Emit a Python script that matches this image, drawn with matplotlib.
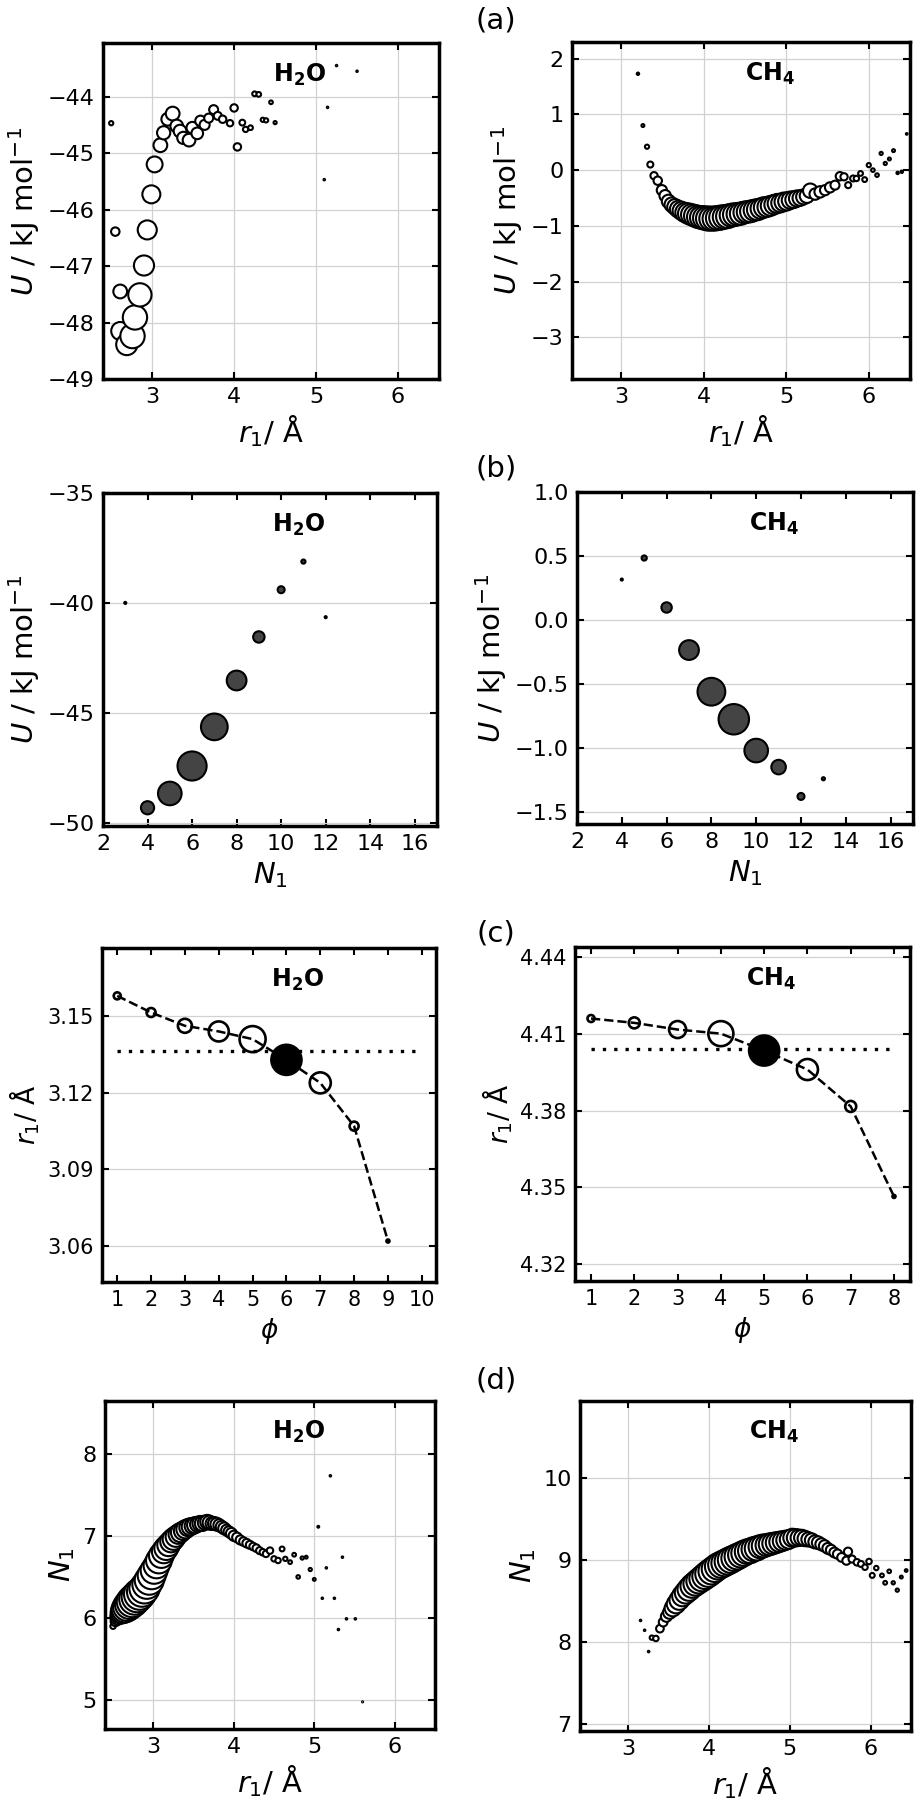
import numpy as np
import matplotlib
matplotlib.use("Agg")
import matplotlib.pyplot as plt

# ---------------- (a) U vs r1 ----------------
r_a_h2o = [2.50, 2.55, 2.61, 2.61, 2.69, 2.76, 2.79, 2.85, 2.90, 2.94, 2.99, 3.03, 3.10, 3.14,
           3.19, 3.25, 3.30, 3.34, 3.38, 3.45, 3.49, 3.55, 3.59, 3.64, 3.69, 3.75, 3.80, 3.86,
           3.95, 4.00, 4.04, 4.10, 4.14, 4.20, 4.25, 4.30, 4.35, 4.39, 4.45, 4.50, 5.10, 5.14,
           5.25, 5.50]
u_a_h2o = [-44.47, -46.39, -47.45, -48.15, -48.39, -48.24, -47.91, -47.51, -46.99, -46.36,
           -45.73, -45.20, -44.86, -44.64, -44.40, -44.30, -44.52, -44.61, -44.73, -44.77,
           -44.55, -44.65, -44.43, -44.50, -44.38, -44.23, -44.34, -44.40, -44.47, -44.20,
           -44.89, -44.46, -44.58, -44.55, -43.95, -43.96, -44.41, -44.42, -44.10, -44.46,
           -45.47, -44.19, -43.45, -43.55]
p_a_h2o = [0.16, 0.64, 1.69, 2.89, 4.00, 5.29, 5.29, 4.84, 3.61, 3.24, 2.89, 2.25, 1.69, 1.56,
           1.44, 1.69, 1.44, 1.44, 1.32, 1.44, 1.21, 1.21, 1.00, 0.90, 0.72, 0.72, 0.56, 0.49,
           0.36, 0.49, 0.49, 0.30, 0.25, 0.20, 0.20, 0.20, 0.16, 0.16, 0.12, 0.09, 0.02, 0.02,
           0.02, 0.02]

r_a_ch4 = [3.20, 3.26, 3.31, 3.35, 3.395, 3.44, 3.49, 3.53, 3.57,
           3.61, 3.65, 3.69, 3.73, 3.77, 3.81, 3.85, 3.89, 3.93, 3.97, 4.01, 4.05, 4.09, 4.13,
           4.17, 4.21, 4.25, 4.29, 4.33, 4.37, 4.41, 4.45, 4.49, 4.53, 4.57, 4.61, 4.65, 4.69,
           4.73, 4.77, 4.81, 4.85, 4.89, 4.93, 4.97, 5.01, 5.05, 5.09, 5.13, 5.17, 5.21, 5.25,
           5.29, 5.35, 5.41, 5.47, 5.53, 5.59, 5.65, 5.70, 5.75, 5.81, 5.85, 5.90, 5.95, 6.00,
           6.05, 6.10, 6.15, 6.20, 6.25, 6.30, 6.35, 6.40, 6.46]
u_a_ch4 = [1.73, 0.80, 0.42, 0.10, -0.10, -0.19, -0.36, -0.46, -0.56,
           -0.62, -0.66, -0.70, -0.73, -0.76, -0.78, -0.80, -0.82, -0.84, -0.85, -0.86, -0.87,
           -0.87, -0.87, -0.86, -0.85, -0.84, -0.83, -0.81, -0.80, -0.79, -0.78, -0.76, -0.75,
           -0.74, -0.72, -0.71, -0.69, -0.67, -0.66, -0.64, -0.62, -0.60, -0.59, -0.57, -0.56,
           -0.54, -0.53, -0.51, -0.50, -0.48, -0.46,
           -0.37, -0.43, -0.39, -0.36, -0.31, -0.27, -0.11, -0.12, -0.27, -0.15, -0.15, -0.06,
           -0.17, 0.09, 0.00, -0.09, 0.30, 0.12, 0.20, 0.35, -0.05, -0.03, 0.65]
p_a_ch4 = [0.04, 0.06, 0.12, 0.25, 0.36, 0.49, 0.72, 0.90, 1.21,
           1.44, 1.69, 1.96, 2.25, 2.56, 2.89, 3.06, 3.24, 3.42, 3.61, 3.80, 4.00, 4.00, 4.00,
           4.00, 4.00, 3.80, 3.80, 3.61, 3.61, 3.42, 3.42, 3.24, 3.24, 3.24, 3.06, 3.06, 2.89,
           2.89, 2.72, 2.72, 2.56, 2.56, 2.40, 2.40, 2.25, 2.10, 1.96, 1.82, 1.69, 1.56, 1.44,
           1.44, 0.90, 0.90, 0.72, 0.72, 0.56, 0.49, 0.36, 0.25, 0.25, 0.20, 0.16, 0.16, 0.12,
           0.09, 0.09, 0.07, 0.07, 0.06, 0.06, 0.04, 0.04, 0.02]

# ---------------- (b) U vs N1 ----------------
n_b_h2o = [3, 4, 5, 6, 7, 8, 9, 10, 11, 12]
u_b_h2o = [-40.0, -49.32, -48.67, -47.42, -45.64, -43.53, -41.55, -39.40, -38.12, -40.65]
p_b_h2o = [0.04, 1.61, 5.15, 7.84, 6.60, 3.61, 1.21, 0.45, 0.16, 0.04]

n_b_ch4 = [4, 5, 6, 7, 8, 9, 10, 11, 12, 13]
u_b_ch4 = [0.317, 0.485, 0.099, -0.233, -0.558, -0.773, -1.017, -1.146, -1.375, -1.237]
p_b_ch4 = [0.04, 0.25, 1.00, 3.61, 7.13, 8.58, 5.15, 1.96, 0.45, 0.09]

# ---------------- (c) r1 vs phi ----------------
phi_h2o = [1, 2, 3, 4, 5, 6, 7, 8, 9]
r_c_h2o = [3.1578, 3.1513, 3.1461, 3.1439, 3.1409, 3.1328, 3.1238, 3.1069, 3.0620]
p_c_h2o = [0.49, 0.81, 1.96, 4.00, 6.76, 9.00, 4.41, 0.81, 0.09]
best_h2o = 6
rref_h2o = 3.1361

phi_ch4 = [1, 2, 3, 4, 5, 6, 7, 8]
r_c_ch4 = [4.4159, 4.4142, 4.4116, 4.4100, 4.4034, 4.3960, 4.3816, 4.3465]
p_c_ch4 = [0.49, 1.21, 2.89, 6.25, 9.00, 4.41, 1.21, 0.09]
best_ch4 = 5
rref_ch4 = 4.4040

# ---------------- (d) N1 vs r1 ----------------
r_d_h2o = [2.50, 2.53, 2.56, 2.59, 2.62, 2.65, 2.68, 2.71, 2.74, 2.77, 2.80, 2.83, 2.86, 2.89,
           2.92, 2.95, 2.98, 3.01, 3.04, 3.07, 3.10, 3.13, 3.16, 3.19, 3.22, 3.25, 3.28, 3.31,
           3.34, 3.37, 3.40, 3.43, 3.46, 3.49, 3.52, 3.55, 3.58, 3.61, 3.64, 3.67, 3.70, 3.73,
           3.76, 3.79, 3.82, 3.85, 3.88, 3.91, 3.94, 3.97, 4.00, 4.04, 4.08, 4.12, 4.16, 4.20,
           4.24, 4.28, 4.32, 4.36, 4.40,
           4.45, 4.50, 4.55, 4.60, 4.64, 4.70, 4.75, 4.80, 4.85, 4.90, 4.95, 5.00, 5.05, 5.10,
           5.15, 5.20, 5.25, 5.30, 5.35, 5.40, 5.51, 5.60]
n_d_h2o = [5.90, 5.96, 6.01, 6.05, 6.08, 6.11, 6.14, 6.17, 6.20, 6.23, 6.26, 6.29, 6.32, 6.36,
           6.41, 6.46, 6.52, 6.58, 6.64, 6.70, 6.76, 6.81, 6.85, 6.89, 6.93, 6.96, 6.99, 7.02,
           7.04, 7.06, 7.08, 7.10, 7.11, 7.12, 7.13, 7.14, 7.15, 7.15, 7.16, 7.17, 7.16, 7.15,
           7.15, 7.14, 7.13, 7.11, 7.09, 7.07, 7.05, 7.03, 7.00, 6.98, 6.95, 6.93, 6.91, 6.89,
           6.87, 6.85, 6.82, 6.80, 6.78,
           6.82, 6.72, 6.70, 6.84, 6.72, 6.68, 6.77, 6.50, 6.73, 6.74, 6.59, 6.47, 7.11, 6.24,
           6.61, 7.73, 6.24, 5.86, 6.74, 5.99, 5.99, 4.98]
p_d_h2o = [0.25, 0.81, 1.96, 3.24, 4.84, 6.25, 7.29, 7.84, 8.41, 8.41, 8.41, 8.41, 7.84, 7.84,
           7.29, 7.29, 6.76, 6.25, 5.76, 5.76, 5.29, 4.84, 4.84, 4.41, 4.00, 4.00, 3.61, 3.24,
           3.24, 2.89, 2.89, 2.56, 2.56, 2.25, 2.25, 1.96, 1.96, 1.96, 1.69, 1.69, 1.69, 1.44,
           1.44, 1.44, 1.21, 1.21, 1.21, 1.00, 1.00, 1.00, 0.90, 0.81, 0.72, 0.64, 0.64, 0.56,
           0.49, 0.49, 0.42, 0.36, 0.36,
           0.36, 0.25, 0.25, 0.20, 0.16, 0.12, 0.12, 0.11, 0.09, 0.07, 0.09, 0.07, 0.03, 0.02,
           0.02, 0.02, 0.02, 0.02, 0.02, 0.02, 0.02, 0.01]

r_d_ch4 = [3.15, 3.20, 3.25, 3.29, 3.34, 3.39, 3.43, 3.47, 3.51, 3.55,
           3.59, 3.63, 3.67, 3.71, 3.75, 3.79, 3.83, 3.87, 3.91, 3.95, 3.99, 4.03, 4.07, 4.11,
           4.15, 4.19, 4.23, 4.27, 4.31, 4.35, 4.39, 4.43, 4.47, 4.51, 4.55, 4.59, 4.63, 4.67,
           4.71, 4.75, 4.79, 4.83, 4.87, 4.91, 4.95, 4.99, 5.03, 5.07, 5.11, 5.15, 5.19, 5.23,
           5.27, 5.31, 5.35, 5.39, 5.43, 5.47, 5.51, 5.55, 5.59, 5.64, 5.70, 5.72, 5.77, 5.83,
           5.88, 5.93, 5.98, 6.02, 6.07, 6.14, 6.18, 6.23, 6.28, 6.33, 6.38, 6.44]
n_d_ch4 = [8.26, 8.14, 7.88, 8.05, 8.04, 8.16, 8.24, 8.31, 8.36, 8.41,
           8.46, 8.51, 8.56, 8.60, 8.64, 8.68, 8.71, 8.74, 8.77, 8.80, 8.83, 8.86, 8.89, 8.92,
           8.94, 8.96, 8.98, 9.00, 9.02, 9.04, 9.06, 9.08, 9.10, 9.11, 9.13, 9.14, 9.16, 9.17,
           9.18, 9.19, 9.20, 9.21, 9.22, 9.23, 9.24, 9.25, 9.27, 9.27, 9.27, 9.27, 9.26, 9.25,
           9.24, 9.22, 9.21, 9.19, 9.17, 9.14, 9.12, 9.09, 9.07, 9.03, 8.99, 9.10, 9.01, 8.97,
           8.95, 8.91, 8.98, 8.81, 8.90, 8.81, 8.72, 8.86, 8.72, 8.63, 8.79, 8.87]
p_d_ch4 = [0.02, 0.02, 0.02, 0.16, 0.25, 0.49, 0.64, 1.00, 1.44, 2.25,
           2.89, 3.24, 3.61, 4.00, 4.41, 4.62, 4.84, 5.06, 5.29, 5.52, 5.76, 5.76, 5.76, 5.76,
           5.76, 5.76, 5.76, 5.76, 5.52, 5.52, 5.29, 5.29, 5.06, 5.06, 4.84, 4.84, 4.41, 4.41,
           4.00, 4.00, 3.80, 3.61, 3.42, 3.24, 3.06, 2.89, 2.72, 2.56, 2.25, 2.10, 1.96, 1.69,
           1.56, 1.44, 1.32, 1.21, 1.10, 1.00, 0.90, 0.81, 0.72, 0.64, 0.56, 0.56, 0.42, 0.36,
           0.30, 0.25, 0.25, 0.20, 0.16, 0.12, 0.12, 0.11, 0.09, 0.09, 0.07, 0.06]

SIZE = 52  # marker area (pt^2) per unit population

W, H = 917, 1801
fig = plt.figure(figsize=(W / 100, H / 100), dpi=100)


def add_ax(x0, y0, x1, y1):
    return fig.add_axes([x0 / W, 1 - y1 / H, (x1 - x0) / W, (y1 - y0) / H])


def style(ax, tick_size=16, grid_axis="both"):
    for sp in ax.spines.values():
        sp.set_linewidth(2.5)
    ax.tick_params(direction="in", top=True, right=True, length=5, width=1.5,
                   labelsize=tick_size, pad=6)
    ax.set_axisbelow(True)
    ax.grid(True, axis=grid_axis, color="0.82", lw=0.9)


def tag(ax, text):
    ax.text(0.585, 0.905, text, transform=ax.transAxes, ha="center", va="center",
            fontsize=17, fontweight="bold")


def bubbles(ax, x, y, p, scale=SIZE, face="white"):
    ax.scatter(x, y, s=scale * np.array(p), facecolor=face,
               edgecolor="black", linewidth=1.5, zorder=3)


H2O = r"$\mathbf{H_2O}$"
CH4 = r"$\mathbf{CH_4}$"
R_LABEL = r"$r_1$/ Å"
U_LABEL = r"$U$ / kJ mol$^{-1}$"

# (a)
ax = add_ax(103, 43, 439, 379)
bubbles(ax, r_a_h2o, u_a_h2o, p_a_h2o, scale=58)
ax.set_xlim(2.4, 6.5)
ax.set_ylim(-49.0, -43.05)
ax.set_xticks([3, 4, 5, 6])
ax.set_yticks([-49, -48, -47, -46, -45, -44])
ax.set_xlabel(R_LABEL, fontsize=21)
ax.set_ylabel(U_LABEL, fontsize=21)
style(ax)
tag(ax, H2O)

ax = add_ax(572, 42, 910, 379)
bubbles(ax, r_a_ch4, u_a_ch4, p_a_ch4, scale=75)
ax.set_xlim(2.4, 6.5)
ax.set_ylim(-3.75, 2.3)
ax.set_xticks([3, 4, 5, 6])
ax.set_yticks([-3, -2, -1, 0, 1, 2])
ax.set_xlabel(R_LABEL, fontsize=21)
ax.set_ylabel(U_LABEL, fontsize=21)
style(ax)
tag(ax, CH4)

# (b)
ax = add_ax(103, 493, 437, 826)
bubbles(ax, n_b_h2o, u_b_h2o, p_b_h2o, scale=56, face="#444444")
ax.set_xlim(2, 17)
ax.set_ylim(-50.15, -35)
ax.set_xticks(range(2, 17, 2))
ax.set_yticks([-50, -45, -40, -35])
ax.set_xlabel(r"$N_1$", fontsize=21)
ax.set_ylabel(U_LABEL, fontsize=21)
style(ax, grid_axis="y")
tag(ax, H2O)

ax = add_ax(577, 492, 913, 824)
bubbles(ax, n_b_ch4, u_b_ch4, p_b_ch4, scale=56, face="#444444")
ax.set_xlim(2, 17)
ax.set_ylim(-1.59, 1.0)
ax.set_xticks(range(2, 17, 2))
ax.set_yticks([-1.5, -1.0, -0.5, 0.0, 0.5, 1.0])
ax.set_xlabel(r"$N_1$", fontsize=21)
ax.set_ylabel(U_LABEL, fontsize=21)
style(ax, grid_axis="y")
tag(ax, CH4)

# (c)
for box, phi, r, p, best, rref, ylim, yt, xlim, xt, name in [
    ((102, 948, 436, 1282), phi_h2o, r_c_h2o, p_c_h2o, best_h2o, rref_h2o,
     (3.046, 3.1765), [3.06, 3.09, 3.12, 3.15], (0.55, 10.42), range(1, 11), H2O),
    ((575, 947, 910, 1281), phi_ch4, r_c_ch4, p_c_ch4, best_ch4, rref_ch4,
     (4.3135, 4.4438), [4.32, 4.35, 4.38, 4.41, 4.44], (0.63, 8.37), range(1, 9), CH4),
]:
    ax = add_ax(*box)
    ax.plot(phi, r, "--", color="black", lw=1.8, zorder=2)
    ax.hlines(rref, phi[0], xt[-1], colors="black", lw=2.4,
              linestyles=(0, (1, 2.4)), zorder=2)
    faces = ["black" if f == best else "none" for f in phi]
    ax.scatter(phi, r, s=SIZE * np.array(p), facecolors=faces, edgecolors="black",
               linewidth=1.9, zorder=3)
    ax.set_xlim(*xlim)
    ax.set_ylim(*ylim)
    ax.set_xticks(list(xt))
    ax.set_yticks(yt)
    ax.set_xlabel(r"$\phi$", fontsize=19)
    ax.set_ylabel(R_LABEL, fontsize=19)
    style(ax, tick_size=15, grid_axis="y")
    tag(ax, name)

# (d)
ax = add_ax(105, 1401, 435, 1729)
bubbles(ax, r_d_h2o, n_d_h2o, p_d_h2o, scale=60)
ax.set_xlim(2.4, 6.5)
ax.set_ylim(4.65, 8.64)
ax.set_xticks([3, 4, 5, 6])
ax.set_yticks([5, 6, 7, 8])
ax.set_xlabel(R_LABEL, fontsize=21)
ax.set_ylabel(r"$N_1$", fontsize=21)
style(ax)
tag(ax, H2O)

ax = add_ax(580, 1401, 911, 1731)
bubbles(ax, r_d_ch4, n_d_ch4, p_d_ch4, scale=62)
ax.set_xlim(2.4, 6.5)
ax.set_ylim(6.91, 10.94)
ax.set_xticks([3, 4, 5, 6])
ax.set_yticks([7, 8, 9, 10])
ax.set_xlabel(R_LABEL, fontsize=21)
ax.set_ylabel(r"$N_1$", fontsize=21)
style(ax)
tag(ax, CH4)

# panel letters
for label, y in [("(a)", 20), ("(b)", 468), ("(c)", 933), ("(d)", 1380)]:
    fig.text(496 / W, 1 - y / H, label, fontsize=21, ha="center", va="center")

fig.savefig("out.png", dpi=100)
